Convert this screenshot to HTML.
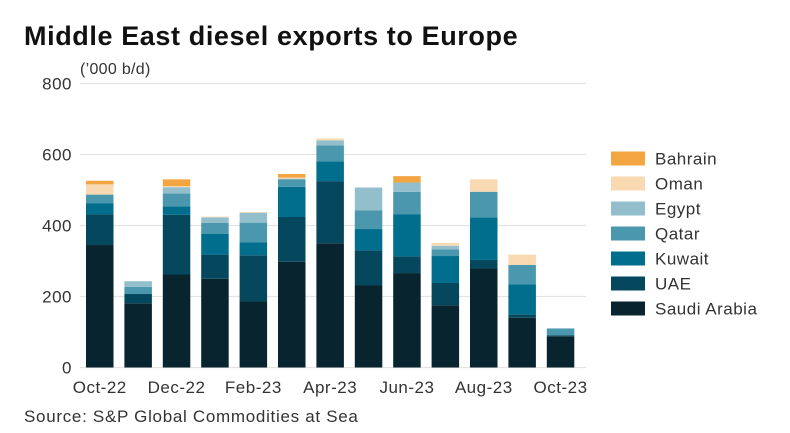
<!DOCTYPE html>
<html><head><meta charset="utf-8"><style>
body{margin:0;background:#fff;}
svg{display:block;font-family:"Liberation Sans",sans-serif;}
</style></head><body>
<svg id="chart" width="790" height="433">
<text x="24" y="45" font-size="27" font-weight="bold" fill="#111" letter-spacing="0.6">Middle East diesel exports to Europe</text>
<text x="80" y="74" font-size="16" fill="#333" letter-spacing="0.3">(’000 b/d)</text>
<text x="24" y="422" font-size="17" fill="#333" letter-spacing="0.7">Source:  S&amp;P Global Commodities at Sea</text>
<g id="grid"></g><g id="bars"></g><g id="xlabels"></g><g id="legend"></g>
</svg>
<script>
const categories=["Oct-22","Nov-22","Dec-22","Jan-23","Feb-23","Mar-23","Apr-23","May-23","Jun-23","Jul-23","Aug-23","Sep-23","Oct-23"];
const seriesNames=["Saudi Arabia","UAE","Kuwait","Qatar","Egypt","Oman","Bahrain"];
const saudi=[345,181,262,250,186,298,350,231,266,175,279,140,88];
const uae=[87,26,168,68,130,126,175,99,47,63,24,9,3];
const kuwait=[30,0,24,59,37,85,56,60,119,76,120,85,0];
const qatar=[25,20,36,30,55,21,45,53,63,19,72,55,19];
const egypt=[0,16,18,16,28,2,14,64,26,10,0,0,0];
const oman=[29,0,3,2,2,3,5,0,0,8,35,29,0];
const bahrain=[10,0,19,0,0,10,0,0,18,0,0,0,0];
const yTicks=[0,200,400,600,800];
const xTickLabels=["Oct-22","Dec-22","Feb-23","Apr-23","Jun-23","Aug-23","Oct-23"];
const colors=["#08252f","#05485e","#006e8c","#4b97ad","#93bfcd","#f8d9b2","#f2a540"];
const series=[saudi,uae,kuwait,qatar,egypt,oman,bahrain];
const NS="http://www.w3.org/2000/svg";
const y0=367.5,pxPer=0.355;
function yScale(v){return y0-v*pxPer;}
function xScale(i){return 86+i*38.4;}
const bw=27.5;
function mk(t,a,p){const e=document.createElementNS(NS,t);for(const k in a)e.setAttribute(k,a[k]);p.appendChild(e);return e;}
const grid=document.getElementById('grid');
yTicks.forEach(t=>{
 const l=mk('line',{x1:80,x2:586,y1:yScale(t),y2:yScale(t),stroke:'#e3e3e3','stroke-width':1.2},grid);
 
 
 const tx=mk('text',{x:72,y:yScale(t)+6,'text-anchor':'end','font-size':17,fill:'#333','letter-spacing':0.5},grid);
 tx.textContent=t;
 
 
});
const bars=document.getElementById('bars');
categories.forEach((c,i)=>{
 let cum=0;
 series.forEach((s,k)=>{
  const v=s[i]; if(!v)return;
  const r=mk('rect',{x:xScale(i),y:yScale(cum+v),width:bw,height:v*pxPer,fill:colors[k]},bars);
  
  
  cum+=v;
 });
});
const xl=document.getElementById('xlabels');
xTickLabels.forEach(lab=>{
 const i=categories.indexOf(lab);
 const t=mk('text',{x:xScale(i)+bw/2,y:393,'text-anchor':'middle','font-size':17,fill:'#333','letter-spacing':0.5},xl);
 t.textContent=lab;
 
 
});
const lg=document.getElementById('legend');
for(let k=6;k>=0;k--){
 const row=6-k, cy=158.5+row*25;
 const r=mk('rect',{x:611,y:cy-7,width:34,height:14,fill:colors[k]},lg);
 
 
 const t=mk('text',{x:655,y:cy+6,'font-size':17,fill:'#333','letter-spacing':0.5},lg);
 t.textContent=seriesNames[k];
 
 
}
</script>
</body></html>
